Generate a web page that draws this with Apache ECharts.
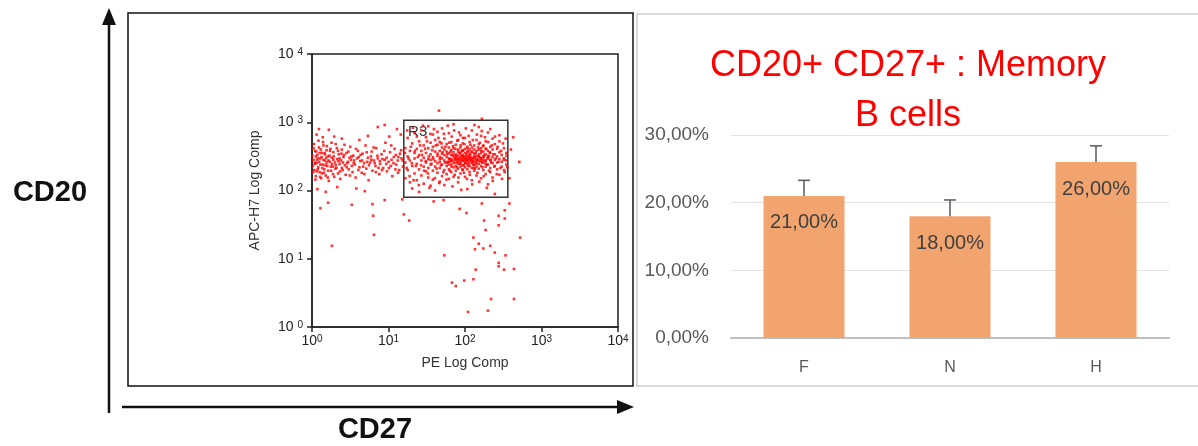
<!DOCTYPE html>
<html>
<head>
<meta charset="utf-8">
<script src="https://cdn.jsdelivr.net/npm/echarts@6/dist/echarts.min.js"></script>
<style>
html, body { margin: 0; padding: 0; background: #fff; }
#chart { width: 1198px; height: 446px; }
</style>
</head>
<body>
<div id="chart"></div>
<script>
// dot plot, values are log10 of PE (x) and APC-H7 (y) intensity
const leftBand = [
  [0.02,2.45],[0.03,2.30],[0.04,2.58],[0.05,2.21],[0.06,2.40],[0.07,2.52],[0.08,2.34],[0.09,2.63],[0.10,2.27],[0.11,2.47],
  [0.12,2.18],[0.13,2.55],[0.14,2.38],[0.15,2.66],[0.16,2.31],[0.17,2.44],[0.18,2.22],[0.19,2.59],[0.20,2.36],[0.21,2.50],
  [0.22,2.14],[0.23,2.42],[0.24,2.61],[0.25,2.29],[0.26,2.48],[0.27,2.35],[0.28,2.56],[0.29,2.20],[0.30,2.41],[0.31,2.68],
  [0.32,2.33],[0.33,2.46],[0.34,2.25],[0.35,2.53],[0.36,2.39],[0.37,2.17],[0.38,2.44],[0.39,2.60],[0.40,2.30],[0.41,2.49],
  [0.43,2.37],[0.44,2.23],[0.45,2.55],[0.47,2.42],[0.48,2.31],[0.50,2.64],[0.51,2.45],[0.53,2.27],[0.54,2.51],[0.56,2.38],
  [0.57,2.19],[0.59,2.47],[0.60,2.58],[0.62,2.34],[0.63,2.43],[0.65,2.26],[0.66,2.54],[0.68,2.40],[0.70,2.66],[0.71,2.32],
  [0.73,2.48],[0.74,2.15],[0.76,2.41],[0.78,2.57],[0.79,2.29],[0.81,2.44],[0.83,2.36],[0.84,2.62],[0.86,2.47],[0.88,2.24],
  [0.89,2.39],[0.91,2.53],[0.93,2.33],[0.95,2.45],[0.96,2.70],[0.98,2.28],[1.00,2.42],[1.02,2.56],[1.03,2.36],[1.05,2.21],
  [1.07,2.49],[1.08,2.61],[1.10,2.38],[1.12,2.44],[1.14,2.30],[1.15,2.54],[1.17,2.47],[1.19,2.35],
  [0.01,2.36],[0.02,2.62],[0.04,2.41],[0.05,2.50],[0.06,2.28],[0.08,2.47],[0.10,2.55],[0.11,2.38],[0.13,2.25],[0.15,2.45],
  [0.17,2.53],[0.19,2.41],[0.21,2.29],[0.23,2.51],[0.26,2.39],[0.28,2.45],[0.31,2.37],[0.34,2.58],[0.36,2.47],[0.39,2.33],
  [0.42,2.52],[0.46,2.40],[0.49,2.48],[0.52,2.36],[0.55,2.44],[0.61,2.49],[0.67,2.35],[0.72,2.42],[0.77,2.50],[0.82,2.40],
  [0.87,2.33],[0.92,2.46],[0.97,2.39],[1.04,2.45],[1.09,2.31],[1.13,2.49],
  [0.09,2.90],[0.22,2.89],[0.29,2.79],[0.86,2.93],[0.95,2.96],[1.11,2.90],[0.07,2.02],[0.18,1.98],[0.33,2.05],[0.58,2.03],
  [0.69,1.99],
  [0.005,2.51],[0.015,2.27],[0.025,2.68],[0.035,2.39],[0.045,2.16],[0.055,2.57],[0.065,2.45],[0.075,2.31],[0.085,2.73],[0.095,2.42],
  [0.105,2.20],[0.115,2.60],[0.125,2.49],[0.135,2.33],[0.145,2.71],[0.155,2.26],[0.165,2.55],[0.175,2.37],[0.185,2.48],[0.195,2.65],
  [0.205,2.19],[0.215,2.44],[0.235,2.58],[0.245,2.35],[0.255,2.70],[0.275,2.24],[0.285,2.50],[0.305,2.32],[0.325,2.62],[0.345,2.43],
  [0.365,2.28],[0.385,2.54],[0.405,2.41],[0.425,2.67],[0.455,2.34],[0.475,2.57],[0.495,2.22],[0.515,2.50],[0.545,2.40],[0.575,2.61],
  [0.605,2.30],[0.635,2.52],[0.655,2.44],[0.685,2.24],[0.715,2.56],[0.745,2.37],[0.775,2.45],[0.805,2.63],[0.835,2.27],[0.855,2.51],
  [0.885,2.43],[0.915,2.30],[0.945,2.58],[0.975,2.48],[1.005,2.33],[1.035,2.66],[1.065,2.40],[1.095,2.52],[1.125,2.26],[1.165,2.59],
  [1.185,2.44],[0.06,2.82],[0.14,2.78],[0.39,2.76],[0.62,2.74],[0.73,2.80],[1.01,2.79],[1.16,2.82]
];

// R3 population: [x, [y values]]
const r3Columns = [
  [1.22,[2.41,2.62,2.18]],
  [1.25,[2.50,2.30,2.77]],
  [1.28,[2.44,2.12,2.58]],
  [1.31,[2.36,2.69,2.03]],
  [1.34,[2.47,2.25,2.55,2.84]],
  [1.37,[2.39,2.61,2.15]],
  [1.40,[2.52,2.31,2.72,1.98]],
  [1.43,[2.44,2.22,2.58,2.88]],
  [1.46,[2.35,2.66,2.48,2.10]],
  [1.49,[2.55,2.28,2.41,2.78]],
  [1.52,[2.46,2.19,2.62,2.33,2.94]],
  [1.55,[2.38,2.53,2.70,2.07,2.45]],
  [1.58,[2.29,2.49,2.64,2.16,2.82]],
  [1.61,[2.43,2.57,2.35,2.74,2.00]],
  [1.64,[2.51,2.26,2.40,2.67,2.86]],
  [1.67,[2.46,2.33,2.58,2.13,2.71,2.42]],
  [1.70,[2.38,2.54,2.21,2.63,2.47,2.91]],
  [1.73,[2.44,2.30,2.60,2.52,2.08,2.76]],
  [1.76,[2.49,2.36,2.57,2.24,2.68,2.41]],
  [1.79,[2.42,2.55,2.31,2.63,2.47,2.17,2.84]],
  [1.82,[2.46,2.38,2.59,2.27,2.52,2.71,2.43]],
  [1.85,[2.50,2.34,2.44,2.62,2.20,2.56,2.97]],
  [1.88,[2.41,2.53,2.36,2.48,2.67,2.29,2.45]],
  [1.91,[2.45,2.57,2.32,2.51,2.39,2.74,2.12,2.60]],
  [1.94,[2.48,2.40,2.55,2.35,2.63,2.44,2.25,2.81]],
  [1.97,[2.43,2.52,2.37,2.58,2.46,2.30,2.69,2.49]],
  [2.00,[2.46,2.55,2.41,2.34,2.61,2.50,2.20,2.77,2.44]],
  [2.03,[2.51,2.39,2.47,2.57,2.31,2.64,2.43,2.02]],
  [2.06,[2.44,2.53,2.36,2.49,2.60,2.27,2.71,2.46]],
  [2.09,[2.48,2.40,2.56,2.33,2.63,2.45,2.88,2.15]],
  [2.12,[2.42,2.54,2.37,2.50,2.66,2.29,2.47]],
  [2.15,[2.46,2.58,2.35,2.51,2.41,2.74,2.22]],
  [2.18,[2.49,2.39,2.60,2.44,2.32,2.68,2.93]],
  [2.21,[2.45,2.55,2.36,2.62,2.48,2.18,2.80]],
  [2.24,[2.50,2.41,2.57,2.30,2.66,2.45]],
  [2.27,[2.43,2.53,2.35,2.61,2.24,2.72]],
  [2.30,[2.47,2.38,2.58,2.51,2.09,2.85]],
  [2.33,[2.44,2.55,2.33,2.64,2.27]],
  [2.36,[2.49,2.40,2.60,2.19,2.76]],
  [2.39,[2.45,2.53,2.36,2.68]],
  [2.42,[2.50,2.41,2.31,2.61]],
  [2.45,[2.46,2.56,2.23,2.72]],
  [2.48,[2.42,2.52,2.35]],
  [2.51,[2.47,2.30,2.62]],
  [2.54,[2.44,2.55,2.38]]
];

// more R3 events between the columns above
const r3Extra = [
  [1.215,2.55],[1.237,2.33],[1.244,2.88],[1.263,2.47],[1.276,2.21],[1.292,2.64],[1.305,2.40],[1.318,2.92],[1.327,2.15],[1.346,2.58],
  [1.358,2.36],[1.371,2.79],[1.384,2.49],[1.396,2.08],[1.412,2.66],[1.425,2.37],[1.438,2.52],[1.451,2.95],[1.466,2.29],[1.478,2.61],
  [1.487,2.43],[1.503,2.72],[1.515,2.25],[1.527,2.50],[1.536,2.04],[1.548,2.83],[1.562,2.39],[1.571,2.59],[1.586,2.46],[1.594,2.90],
  [1.607,2.18],[1.618,2.66],[1.629,2.32],[1.641,2.54],[1.653,2.77],[1.662,2.11],[1.675,2.49],[1.686,2.37],[1.694,2.69],[1.707,2.56],
  [1.716,2.27],[1.724,2.83],[1.738,2.41],[1.745,2.64],[1.757,2.16],[1.768,2.53],[1.775,2.95],[1.786,2.38],[1.794,2.70],[1.803,2.29],
  [1.812,2.57],[1.818,2.44],[1.827,2.79],[1.836,2.06],[1.843,2.65],[1.851,2.40],[1.858,2.88],[1.866,2.23],[1.874,2.61],[1.881,2.51],
  [1.893,2.34],[1.899,2.73],[1.906,2.47],[1.914,2.19],[1.921,2.85],[1.928,2.55],[1.936,2.39],[1.943,2.66],[1.951,2.01],[1.958,2.58],
  [1.965,2.31],[1.972,2.77],[1.979,2.50],[1.986,2.26],[1.993,2.68],[2.004,2.40],[2.011,2.91],[2.018,2.54],[2.025,2.17],[2.033,2.62],
  [2.041,2.36],[2.048,2.80],[2.055,2.49],[2.063,2.23],[2.071,2.67],[2.078,2.43],[2.086,2.57],[2.094,2.09],[2.102,2.74],[2.109,2.38],
  [2.117,2.60],[2.124,2.96],[2.132,2.32],[2.141,2.55],[2.148,2.44],[2.156,2.82],[2.163,2.26],[2.171,2.63],[2.179,2.50],[2.187,2.13],
  [2.195,2.70],[2.203,2.42],[2.212,2.58],[2.219,2.87],[2.228,2.34],[2.236,2.65],[2.244,2.21],[2.252,2.52],[2.261,2.78],[2.269,2.39],
  [2.278,2.61],[2.286,2.04],[2.295,2.47],[2.304,2.71],[2.313,2.29],[2.322,2.56],[2.331,2.90],[2.342,2.41],[2.351,2.66],[2.362,2.14],
  [2.371,2.53],[2.383,2.35],[2.392,2.79],[2.404,2.47],[2.415,2.24],[2.426,2.64],[2.437,2.42],[2.449,2.81],[2.461,2.33],[2.472,2.58],
  [2.484,2.17],[2.496,2.69],[2.508,2.45],[2.519,2.27],[2.531,2.76],[2.543,2.51],[2.552,2.34],
  [1.905,2.42],[1.925,2.46],[1.945,2.51],[1.962,2.44],[1.983,2.37],[2.007,2.48],[2.028,2.45],[2.052,2.40],[2.068,2.52],[2.089,2.47],
  [2.107,2.43],[2.128,2.49],[2.146,2.39],[2.168,2.45],[2.186,2.53],[2.207,2.47],[2.226,2.41],[2.247,2.49],[2.266,2.44],[2.288,2.38],
  [1.865,2.47],[1.842,2.52],[1.822,2.35],[1.798,2.46],[1.776,2.42],[2.315,2.50],[2.338,2.45],[2.045,2.57],[2.115,2.33],[1.975,2.59]
];

// scattered events outside the main bands
const strayEvents = [
  [0.11,1.74],[0.26,1.19],[0.21,1.82],[0.52,1.79],[0.81,1.35],[0.80,1.63],[0.79,1.80],[0.95,1.86],[1.18,1.87],[1.20,1.65],
  [1.27,1.56],[1.66,3.17],[2.22,3.05],[1.59,1.84],[1.72,1.86],[1.93,1.73],[2.02,1.67],[2.22,1.81],[2.39,1.95],[2.58,1.81],
  [2.52,1.71],[2.44,1.63],[2.52,1.59],[2.44,1.49],[2.25,1.56],[2.27,1.42],[2.11,1.31],[2.18,1.22],[2.13,1.14],[2.24,1.15],
  [2.33,1.19],[2.39,1.09],[2.53,1.05],[2.72,1.31],[1.73,1.05],[2.44,0.94],[2.44,0.89],[2.51,0.84],[2.64,0.85],[2.14,0.84],
  [2.11,0.70],[1.99,0.68],[1.83,0.65],[1.88,0.60],[2.34,0.41],[2.64,0.41],[2.30,0.24],[2.04,0.22],[2.63,2.78],[2.71,2.42],
  [2.58,2.18],[2.60,2.60]
];

const gateR3 = [[1.2, 1.9], [2.56, 3.03]];

// bar chart
const groups = ['F', 'N', 'H'];
const memoryB = [21, 18, 26];
const memoryBErr = [2.3, 2.4, 2.4];

const dots = leftBand.concat(r3Extra, strayEvents);
r3Columns.forEach(c => c[1].forEach(y => dots.push([c[0], y])));

const pct = v => v.toFixed(2).replace('.', ',') + '%';
const powRich = {
  b: { fontSize: 14, color: '#222', fontFamily: 'Liberation Sans' },
  s: { fontSize: 10, color: '#222', fontFamily: 'Liberation Sans', verticalAlign: 'top', lineHeight: 14 }
};

const chart = echarts.init(document.getElementById('chart'));
chart.setOption({
  animation: false,
  backgroundColor: '#fff',
  textStyle: { fontFamily: 'Liberation Sans, Arial, sans-serif' },
  title: {
    text: 'CD20+ CD27+ : Memory\nB cells',
    left: 903,
    top: 36,
    textAlign: 'center',
    textStyle: { fontSize: 36, color: '#ff0000', fontWeight: 'normal', lineHeight: 50, fontFamily: 'Liberation Sans' }
  },
  grid: [
    { left: 312, top: 54, width: 306, height: 273, show: true, borderColor: '#222', borderWidth: 1.5, backgroundColor: 'transparent' },
    { left: 731, top: 135, width: 438, height: 203 }
  ],
  xAxis: [
    {
      gridIndex: 0, type: 'value', min: 0, max: 4, interval: 1,
      name: 'PE Log Comp', nameLocation: 'middle', nameGap: 29,
      nameTextStyle: { fontSize: 14, color: '#333' },
      axisLine: { show: true, lineStyle: { color: '#222', width: 1.5 } },
      axisTick: { show: true, length: 5, lineStyle: { color: '#222', width: 1.5 } },
      axisLabel: { margin: 7, formatter: v => '{b|10}{s|' + v + '}', rich: powRich },
      splitLine: { show: false }
    },
    {
      gridIndex: 1, type: 'category', data: groups,
      axisLine: { show: true, lineStyle: { color: '#bfbfbf', width: 2 } },
      axisTick: { show: false },
      axisLabel: { fontSize: 16, color: '#595959', margin: 22 }
    }
  ],
  yAxis: [
    {
      gridIndex: 0, type: 'value', min: 0, max: 4, interval: 1,
      name: 'APC-H7 Log Comp', nameLocation: 'middle', nameGap: 50, nameRotate: 90,
      nameTextStyle: { fontSize: 14, color: '#333' },
      axisLine: { show: true, lineStyle: { color: '#222', width: 1.5 } },
      axisTick: { show: true, length: 5, lineStyle: { color: '#222', width: 1.5 } },
      axisLabel: { margin: 9, formatter: v => '{b|10 }{s|' + v + '}', rich: powRich },
      splitLine: { show: false }
    },
    {
      gridIndex: 1, type: 'value', min: 0, max: 30, interval: 10,
      axisLine: { show: false }, axisTick: { show: false },
      splitLine: { lineStyle: { color: '#e3e3e3', width: 1 } },
      axisLabel: { fontSize: 19, color: '#595959', margin: 22, formatter: pct }
    }
  ],
  series: [
    {
      type: 'scatter', xAxisIndex: 0, yAxisIndex: 0,
      symbol: 'rect', symbolSize: 2.6,
      itemStyle: { color: '#ff0000' },
      silent: true,
      data: dots,
      markArea: {
        silent: true,
        itemStyle: { color: 'rgba(0,0,0,0)', borderColor: '#333', borderWidth: 1.5 },
        label: { show: true, position: 'insideTopLeft', distance: 5, color: '#333', fontSize: 15 },
        data: [[{ name: 'R3', coord: gateR3[0] }, { coord: gateR3[1] }]]
      }
    },
    {
      type: 'bar', xAxisIndex: 1, yAxisIndex: 1,
      barWidth: 81,
      itemStyle: { color: '#f2a46f' },
      label: { show: true, position: 'insideTop', distance: 17, fontSize: 20, color: '#404040', formatter: p => pct(p.value) },
      data: memoryB
    },
    {
      type: 'custom', xAxisIndex: 1, yAxisIndex: 1,
      encode: { x: 0, y: [1, 2] },
      data: groups.map((g, i) => [i, memoryB[i], memoryB[i] + memoryBErr[i]]),
      renderItem: (params, api) => {
        const lo = api.coord([api.value(0), api.value(1)]);
        const hi = api.coord([api.value(0), api.value(2)]);
        const st = { stroke: '#595959', lineWidth: 1.5 };
        return {
          type: 'group',
          children: [
            { type: 'line', shape: { x1: lo[0], y1: lo[1], x2: hi[0], y2: hi[1] }, style: st },
            { type: 'line', shape: { x1: hi[0] - 6, y1: hi[1], x2: hi[0] + 6, y2: hi[1] }, style: st }
          ]
        };
      },
      z: 10
    }
  ],
  graphic: [
    { type: 'rect', shape: { x: 128, y: 13, width: 505, height: 373 }, style: { fill: 'none', stroke: '#111', lineWidth: 1.5 } },
    { type: 'rect', shape: { x: 637, y: 14, width: 580, height: 372 }, style: { fill: 'none', stroke: '#d9d9d9', lineWidth: 2 } },
    { type: 'line', shape: { x1: 109, y1: 413, x2: 109, y2: 22 }, style: { stroke: '#111', lineWidth: 2.5 } },
    { type: 'polygon', shape: { points: [[102, 25], [116, 25], [109, 8]] }, style: { fill: '#111' } },
    { type: 'line', shape: { x1: 122, y1: 407, x2: 620, y2: 407 }, style: { stroke: '#111', lineWidth: 2.5 } },
    { type: 'polygon', shape: { points: [[617, 400], [617, 414], [634, 407]] }, style: { fill: '#111' } },
    { type: 'text', style: { text: 'CD20', x: 50, y: 193, align: 'center', verticalAlign: 'middle', fontSize: 29, fontWeight: 'bold', fill: '#111', fontFamily: 'Liberation Sans' } },
    { type: 'text', style: { text: 'CD27', x: 375, y: 430, align: 'center', verticalAlign: 'middle', fontSize: 29, fontWeight: 'bold', fill: '#111', fontFamily: 'Liberation Sans' } }
  ]
});
</script>
</body>
</html>
